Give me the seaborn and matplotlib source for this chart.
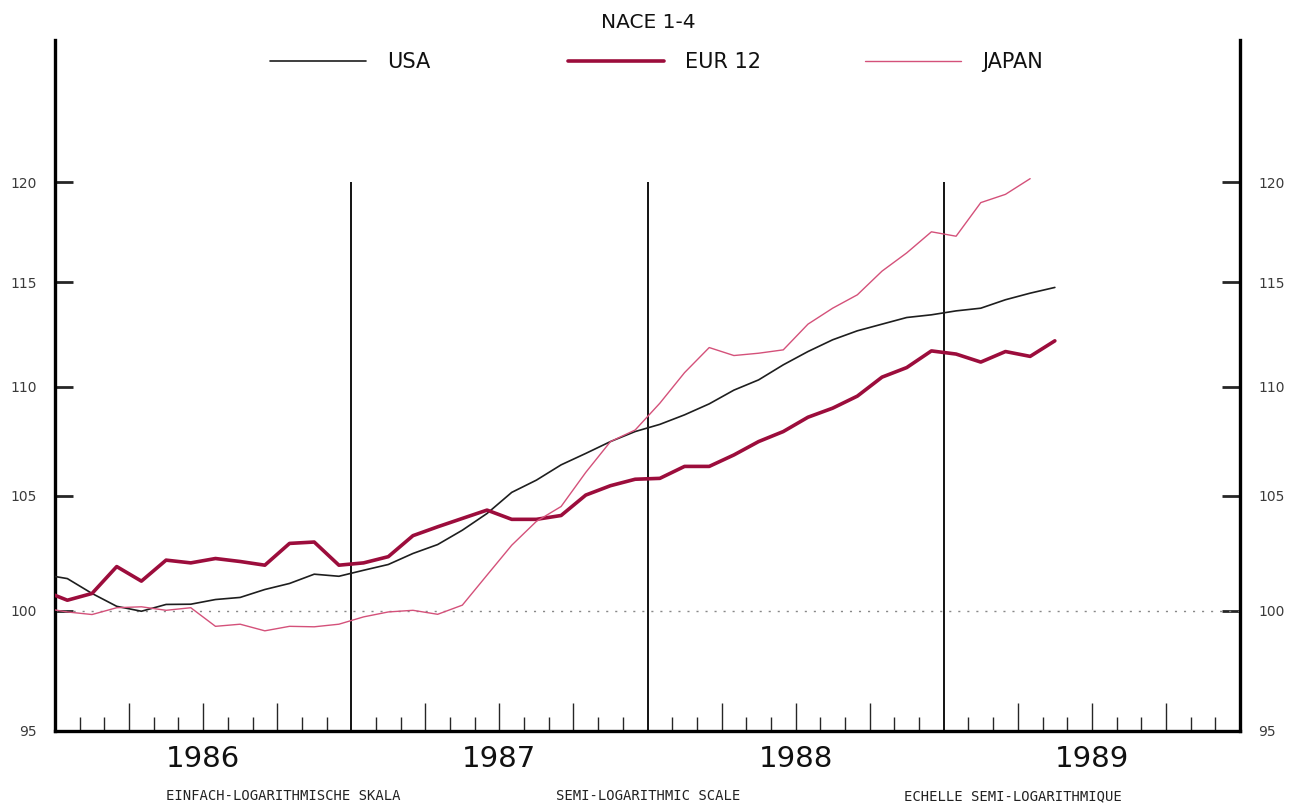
import numpy as np, pandas as pd
import matplotlib
matplotlib.use('Agg')
import matplotlib.pyplot as plt
import seaborn as sns

### Data: monthly index values (1985 = 100 scale), first value is Dec 1985 (clipped at the axis).
usaValues = [101.55, 101.37, 100.73, 100.18, 99.97, 100.26, 100.27, 100.47, 100.56, 100.90, 101.16, 101.56, 101.47,
             101.73, 101.98, 102.46, 102.85, 103.48, 104.22, 105.16, 105.71, 106.40, 106.92, 107.46, 107.92,
             108.25, 108.69, 109.20, 109.84, 110.32, 111.03, 111.66, 112.22, 112.65, 112.97, 113.29, 113.42,
             113.61, 113.74, 114.15, 114.47, 114.75]
eurValues = [100.86, 100.44, 100.73, 101.89, 101.26, 102.17, 102.05, 102.24, 102.11, 101.95, 102.90, 102.96, 101.95,
             102.05, 102.32, 103.24, 103.63, 104.00, 104.37, 103.96, 103.96, 104.13, 105.04, 105.46, 105.75,
             105.79, 106.33, 106.33, 106.85, 107.46, 107.92, 108.58, 109.00, 109.56, 110.45, 110.90, 111.69,
             111.54, 111.16, 111.66, 111.43, 112.17]
japanValues = [100.11, 99.94, 99.83, 100.12, 100.16, 100.01, 100.12, 99.33, 99.42, 99.14, 99.33, 99.31, 99.42,
               99.73, 99.94, 100.01, 99.84, 100.23, 101.52, 102.82, 103.87, 104.53, 106.06, 107.46, 107.99,
               109.23, 110.66, 111.85, 111.47, 111.58, 111.74, 112.97, 113.74, 114.39, 115.55, 116.45, 117.50,
               117.28, 118.97, 119.39, 120.19]

seriesNames = ['USA', 'EUR 12', 'JAPAN']
seriesColors = {'USA': '#1e1e1e', 'EUR 12': '#9c0d3c', 'JAPAN': '#d4517a'}
seriesWidths = {'USA': 1.2, 'EUR 12': 2.6, 'JAPAN': 1.0}

yearLabels = ['1986', '1987', '1988', '1989']
yTicks = [95, 100, 105, 110, 115, 120]
footerTexts = ['EINFACH-LOGARITHMISCHE SKALA', 'SEMI-LOGARITHMIC SCALE', 'ECHELLE SEMI-LOGARITHMIQUE']
titleText = 'NACE 1-4'

# Build a long dataframe, x = month index (mid-month), starting at Dec 1985:
frames = []
for name, vals in zip(seriesNames, [usaValues, eurValues, japanValues]):
    months = np.arange(len(vals)) - 0.5
    frames.append(pd.DataFrame({'month': months, 'value': vals, 'series': name}))
df = pd.concat(frames, ignore_index=True)

sns.set_style('white')
plt.rcParams['font.family'] = ['DejaVu Sans']

fig = plt.figure(figsize=(13.04, 8.09), dpi=100)
ax = fig.add_axes([55/1304, 1 - 731/809, (1240-55)/1304, (731-40)/809])

# Reference lines first (under the series):
ax.axhline(100, color='#888888', linestyle=(0, (1.5, 5)), linewidth=1.0, zorder=1)
ax.vlines([12, 24, 36], 95, 120, color='black', linewidth=1.3, zorder=1)

lineHandles = {}
for name in seriesNames:
    sns.lineplot(data=df[df.series == name], x='month', y='value', ax=ax, color=seriesColors[name],
                 linewidth=seriesWidths[name], zorder=3, estimator=None, sort=True, legend=False)
    lineHandles[name] = ax.get_lines()[-1]

ax.set_yscale('log')
ax.set_ylim(95, 127.5)
ax.set_xlim(0, 48)
ax.set_xlabel('')
ax.set_ylabel('')

# Y ticks on both sides:
ax.set_yticks(yTicks)
ax.set_yticklabels([str(t) for t in yTicks])
ax.minorticks_off()
ax.tick_params(axis='y', which='major', direction='in', length=13, width=2, left=True, right=True,
               labelleft=True, labelright=True, labelsize=10, labelcolor='#3a3a3a', pad=13)

# X ticks: monthly inside, taller every quarter, year boundaries are vertical lines:
quarterTicks = [m for m in range(3, 48, 3) if m % 12 != 0]
monthTicks = [m for m in range(1, 48) if m % 3 != 0]
ax.set_xticks(quarterTicks)
ax.set_xticklabels([])
ax.set_xticks(monthTicks, minor=True)
ax.tick_params(axis='x', which='major', direction='in', length=20, width=1, bottom=True)
ax.tick_params(axis='x', which='minor', direction='in', length=10, width=1, bottom=True)

for side in ['left', 'right', 'bottom']:
    ax.spines[side].set_visible(True)
    ax.spines[side].set_color('black')
    ax.spines[side].set_linewidth(2.4)
ax.spines['top'].set_visible(False)
ax.grid(False)

# Year labels under the axis:
for i, year in enumerate(yearLabels):
    ax.text(6 + 12*i, -0.04, year, transform=ax.get_xaxis_transform(), ha='center', va='center',
            fontsize=21, color='#111111')

# Footer and title:
for xPos, text in zip([283, 648, 1013], footerTexts):
    fig.text(xPos/1304, 1 - 796/809, text, ha='center', va='center', fontsize=10, color='#222222',
             family='DejaVu Sans Mono')
fig.text(648/1304, 1 - 22/809, titleText, ha='center', va='center', fontsize=14.5, color='#111111')

# Legend along the top: one entry per block, like the original layout.
legendStarts = [270, 568, 865]
for xStart, name in zip(legendStarts, seriesNames):
    leg = fig.legend([lineHandles[name]], [name], loc='center left',
                     bbox_to_anchor=(xStart/1304, 1 - 62/809), frameon=False, fontsize=15,
                     handlelength=4.6, handletextpad=1.0, borderpad=0, borderaxespad=0)
    for t in leg.get_texts():
        t.set_color('#111111')

plt.savefig('out.png', dpi=100)
